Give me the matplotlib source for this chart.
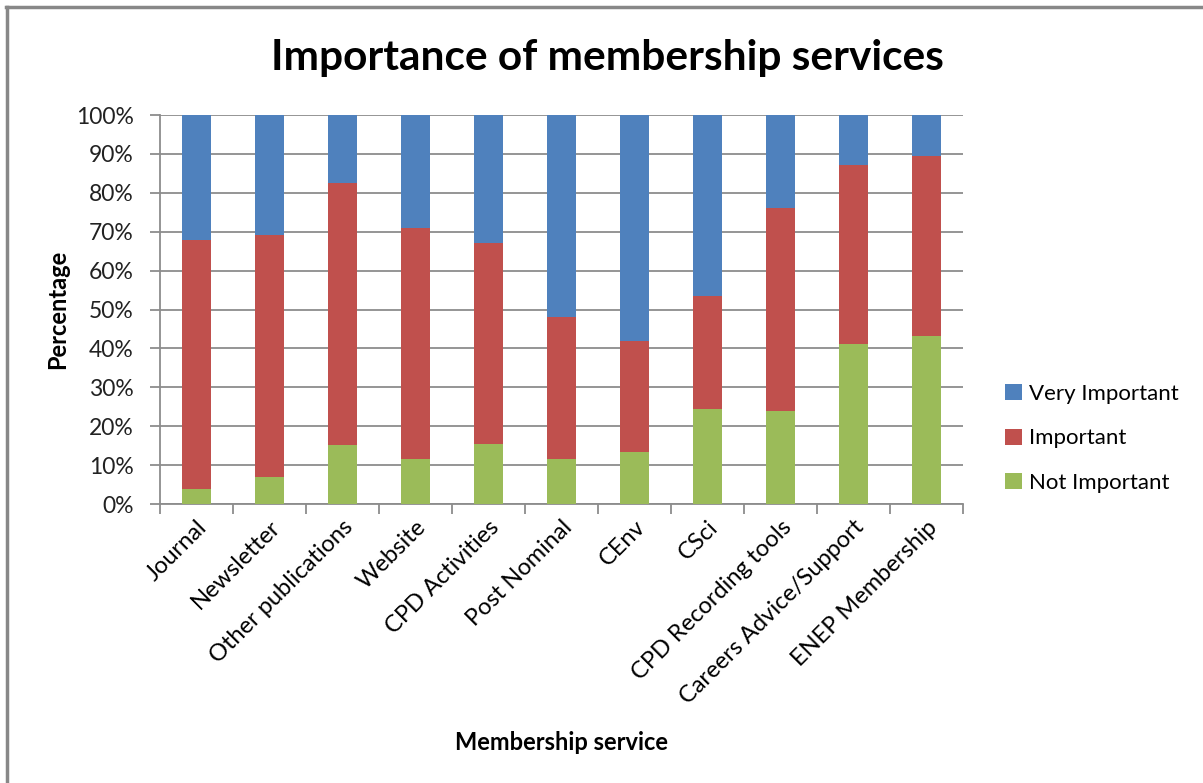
import matplotlib.pyplot as plt
import numpy as np
from matplotlib.lines import Line2D
from matplotlib.ticker import FixedLocator, PercentFormatter

# survey results, percent of respondents per service
services = ["Journal", "Newsletter", "Other publications", "Website",
            "CPD Activities", "Post Nominal", "CEnv", "CSci",
            "CPD Recording tools", "Careers Advice/Support", "ENEP Membership"]
not_important = [3.9, 7.0, 15.3, 11.7, 15.5, 11.7, 13.4, 24.4, 23.8, 41.2, 43.1]
important = [64.0, 62.1, 67.1, 59.3, 51.7, 36.5, 28.5, 29.2, 52.3, 46.0, 46.3]
very_important = [32.1, 30.9, 17.6, 29.0, 32.8, 51.8, 58.1, 46.4, 23.9, 12.8, 10.6]

c_green = "#9BBB59"
c_red = "#C0504D"
c_blue = "#4F81BD"
font = ["Lato", "DejaVu Sans"]

fig = plt.figure(figsize=(12.03, 7.83), dpi=100)
ax = fig.add_axes([0.133, 0.3563, 0.6675, 0.4968])

x = np.arange(len(services))
w = 0.4
ni = np.array(not_important)
im = np.array(important)
vi = np.array(very_important)
ax.bar(x, ni, w, color=c_green, label="Not Important", zorder=3)
ax.bar(x, im, w, bottom=ni, color=c_red, label="Important", zorder=3)
ax.bar(x, vi, w, bottom=ni + im, color=c_blue, label="Very Important", zorder=3)

ax.set_xlim(-0.5, len(services) - 0.5)
ax.set_ylim(0, 100)
ax.set_yticks(np.arange(0, 101, 10))
ax.yaxis.set_major_formatter(PercentFormatter(decimals=0))
ax.grid(axis="y", color="#8c8c8c", linewidth=1.3, zorder=0)

# category labels sit on minor positions, ticks mark the boundaries
ax.xaxis.set_major_locator(FixedLocator(np.arange(-0.5, len(services), 1.0)))
ax.xaxis.set_minor_locator(FixedLocator(x))
ax.set_xticklabels([])
ax.set_xticklabels(services, minor=True, rotation=45, ha="right",
                   rotation_mode="anchor", fontsize=17, family=font)
ax.tick_params(axis="x", which="major", length=7, color="#8c8c8c", width=1.3)
ax.tick_params(axis="x", which="minor", length=0, pad=9)
ax.tick_params(axis="y", length=7, color="#8c8c8c", width=1.3, labelsize=16.5,
               labelcolor="#222222", pad=12)
for lbl in ax.get_yticklabels():
    lbl.set_family(font)

for s in ["top", "right"]:
    ax.spines[s].set_visible(False)
for s in ["left", "bottom"]:
    ax.spines[s].set_color("#8c8c8c")
    ax.spines[s].set_linewidth(1.3)

ax.set_ylabel("Percentage", fontsize=17, fontweight="bold", family=font,
              va="center")
ax.yaxis.set_label_coords(-0.127, 0.5)
ax.set_xlabel("Membership service", fontsize=17, fontweight="bold",
              family=font, va="center")
ax.xaxis.set_label_coords(0.5, -0.614)
fig.text(0.505, 0.926, "Importance of membership services", ha="center",
         va="center", fontsize=30.5, fontweight="bold", family=font)

handles, labels = ax.get_legend_handles_labels()
fig.legend(handles[::-1], labels[::-1], loc="center left",
           bbox_to_anchor=(0.819, 0.44), frameon=False,
           prop={"family": font, "size": 16}, handlelength=0.75,
           handleheight=0.75, handletextpad=0.3, labelspacing=1.1)

# outer chart frame (top and left edges)
fig.add_artist(Line2D([0.005, 1.0], [0.991, 0.991], transform=fig.transFigure,
                      color="#888888", linewidth=2.5))
fig.add_artist(Line2D([0.006, 0.006], [0.0, 0.991], transform=fig.transFigure,
                      color="#888888", linewidth=2.5))

fig.savefig("out.png", dpi=100)
